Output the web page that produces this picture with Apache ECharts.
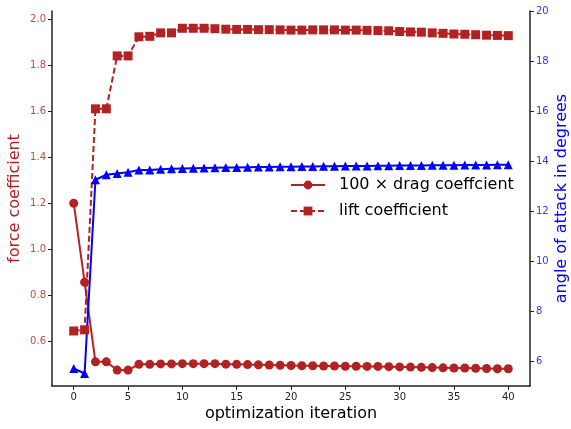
<!DOCTYPE html>
<html><head><meta charset="utf-8">
<script src="https://cdn.jsdelivr.net/npm/echarts@6/dist/echarts.min.js"></script>
<style>html,body{margin:0;padding:0;background:#fff}#c{width:571px;height:429px}</style>
</head><body><div id="c"></div>
<script>
const iterations = Array.from({length: 41}, (_, i) => i);
const dragCoeff = [1.2,0.857,0.511,0.511,0.475,0.475,0.5,0.5,0.502,0.502,0.503,0.503,0.503,0.503,0.501,0.5,0.499,0.498,0.497,0.496,0.495,0.494,0.494,0.493,0.493,0.492,0.492,0.491,0.491,0.49,0.489,0.488,0.487,0.486,0.485,0.484,0.484,0.483,0.482,0.481,0.481];
const liftCoeff = [0.645,0.65,1.61,1.61,1.84,1.84,1.923,1.925,1.94,1.94,1.96,1.96,1.96,1.958,1.956,1.955,1.955,1.954,1.954,1.953,1.952,1.952,1.953,1.953,1.953,1.952,1.952,1.951,1.95,1.949,1.946,1.944,1.943,1.94,1.938,1.935,1.934,1.932,1.93,1.929,1.928];
const angleDeg = [5.7,5.5,13.25,13.45,13.5,13.55,13.64,13.64,13.67,13.69,13.7,13.71,13.72,13.73,13.74,13.74,13.75,13.76,13.76,13.77,13.77,13.78,13.78,13.79,13.79,13.8,13.8,13.8,13.81,13.81,13.82,13.82,13.82,13.83,13.83,13.83,13.84,13.84,13.84,13.85,13.85];
const xTicks = [0,5,10,15,20,25,30,35,40];
const leftTicks = [0.6,0.8,1.0,1.2,1.4,1.6,1.8,2.0];
const rightTicks = [6,8,10,12,14,16,18,20];
const names = ['100 × drag coeffcient', 'lift coefficient', 'angle of attack'];

const RED = '#b22222', BLUE = '#0000ff';
const font = 'DejaVu Sans';
const chart = echarts.init(document.getElementById('c'), null, {renderer: 'canvas'});
const pair = arr => arr.map((v, i) => [iterations[i], v]);
chart.setOption({
  animation: false,
  textStyle: {fontFamily: font},
  grid: {left: 52, right: 41, top: 11, bottom: 43, containLabel: false, outerBoundsMode: 'none'},
  legend: {
    data: [names[0], names[1]],
    orient: 'vertical', left: 290, top: 177, itemGap: 10, padding: 0,
    itemWidth: 34, itemHeight: 11,
    textStyle: {fontSize: 16, color: '#000', fontFamily: font, padding: [0, 0, 0, 9]}
  },
  xAxis: {
    type: 'value', min: -2, max: 42,
    name: 'optimization iteration', nameLocation: 'middle', nameGap: 20, nameMoveOverlap: false,
    nameTextStyle: {fontSize: 16, color: '#000', fontFamily: font},
    axisLine: {show: true, onZero: false, lineStyle: {color: '#222', width: 1.5}},
    axisTick: {show: true, length: 4, customValues: xTicks, lineStyle: {color: '#222'}},
    axisLabel: {customValues: xTicks, fontSize: 10, color: '#222', margin: 6, fontFamily: font},
    splitLine: {show: false}
  },
  yAxis: [{
    type: 'value', min: 0.406, max: 2.035, position: 'left',
    name: 'force coefficient', nameLocation: 'middle', nameGap: 29, nameRotate: 90, nameMoveOverlap: false,
    nameTextStyle: {fontSize: 16, color: RED, fontFamily: font},
    axisLine: {show: true, onZero: false, lineStyle: {color: '#222', width: 1.5}},
    axisTick: {show: true, length: 4, customValues: leftTicks, lineStyle: {color: '#222'}},
    axisLabel: {customValues: leftTicks, fontSize: 10, color: '#c24a4a', margin: 6, fontFamily: font,
      formatter: v => v.toFixed(1)},
    splitLine: {show: false}
  }, {
    type: 'value', min: 5, max: 20, position: 'right',
    name: 'angle of attack in degrees', nameLocation: 'middle', nameGap: 24, nameRotate: 90, nameMoveOverlap: false,
    nameTextStyle: {fontSize: 16, color: BLUE, fontFamily: font},
    axisLine: {show: true, onZero: false, lineStyle: {color: '#222', width: 1.5}},
    axisTick: {show: true, length: 4, customValues: rightTicks, lineStyle: {color: '#222'}},
    axisLabel: {customValues: rightTicks, fontSize: 10, color: '#3333ff', margin: 6, fontFamily: font},
    splitLine: {show: false}
  }],
  series: [{
    name: names[0], type: 'line', yAxisIndex: 0, data: pair(dragCoeff),
    symbol: 'circle', symbolSize: 9, showAllSymbol: true,
    lineStyle: {color: RED, width: 2}, itemStyle: {color: RED}
  }, {
    name: names[1], type: 'line', yAxisIndex: 0, data: pair(liftCoeff),
    symbol: 'rect', symbolSize: 9, showAllSymbol: true,
    lineStyle: {color: RED, width: 2, type: [6, 3]}, itemStyle: {color: RED}
  }, {
    name: names[2], type: 'line', yAxisIndex: 1, data: pair(angleDeg),
    symbol: 'triangle', symbolSize: 9, showAllSymbol: true,
    lineStyle: {color: BLUE, width: 2}, itemStyle: {color: BLUE}
  }]
});
</script></body></html>
